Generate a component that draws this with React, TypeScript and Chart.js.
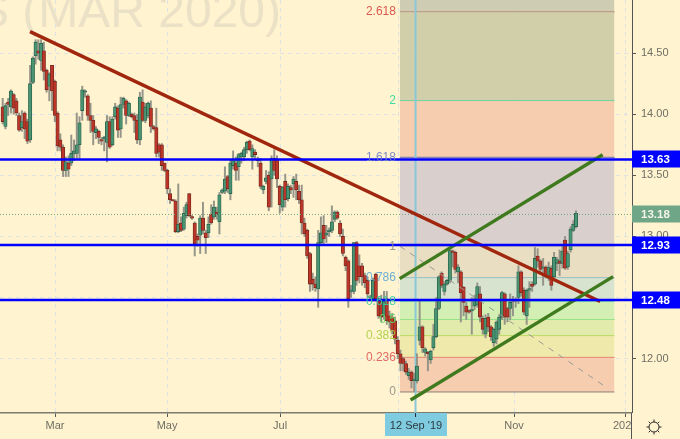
import React, { useEffect, useRef } from "react";
import { Chart, registerables } from "chart.js";

Chart.register(...registerables);

const opens = [
  14.06, 13.90, 14.10, 14.06, 14.16, 14.11, 13.99, 13.89, 14.01, 13.94,
  13.79, 14.26, 14.48, 14.52, 14.44, 14.52, 14.36, 14.23, 14.40, 14.27,
  14.01, 13.79, 13.73, 13.54, 13.60, 13.60, 13.68, 13.68, 13.75, 14.03,
  14.18, 14.15, 13.99, 13.95, 13.85, 13.86, 13.79, 13.80, 13.77, 13.94,
  13.75, 13.98, 14.05, 13.88, 14.08, 14.11, 13.99, 14.00, 13.99, 13.95,
  13.79, 14.10, 13.95, 13.99, 14.05, 13.90, 13.89, 13.75, 13.75, 13.60,
  13.54, 13.35, 13.30, 13.29, 13.04, 13.11, 13.06, 13.17, 13.35, 13.16,
  13.11, 13.00, 13.01, 13.15, 13.03, 13.03, 13.18, 13.16, 13.20, 13.12,
  13.36, 13.37,
  13.49, 13.35, 13.58, 13.60, 13.57, 13.65, 13.65, 13.71, 13.78, 13.65,
  13.69, 13.63, 13.60, 13.38, 13.45, 13.50, 13.47, 13.64, 13.63, 13.41,
  13.24, 13.45, 13.31, 13.40, 13.43, 13.45, 13.37,
  13.30, 13.11, 13.05, 12.86, 12.65, 12.61, 12.57, 12.95, 13.09, 13.01,
  13.04, 13.05, 13.14, 13.20, 13.11, 13.00, 12.83, 12.80, 12.55, 12.55,
  12.95, 12.76, 12.76, 12.68, 12.64, 12.51, 12.49, 12.69, 12.49, 12.47,
  12.35, 12.49, 12.35, 12.34, 12.31, 12.15,
  12.04, 12.00, 11.96, 11.86, 11.89, 11.82, 11.82, 12.15, 12.26, 12.05,
  12.05, 11.99, 12.09, 12.18, 12.41, 12.70, 12.55, 12.61, 12.64, 12.88,
  12.87, 12.71, 12.71, 12.585, 12.43, 12.39, 12.39, 12.43, 12.44, 12.53,
  12.33, 12.20, 12.34, 12.26, 12.13,
  12.16, 12.24, 12.34, 12.53, 12.41, 12.41, 12.48, 12.47, 12.50, 12.71,
  12.56, 12.35, 12.56, 12.61, 12.61, 12.84, 12.80, 12.74, 12.75, 12.67,
  12.74, 12.67, 12.78, 12.80, 12.78, 12.97, 12.75, 12.89, 13.05, 13.08,
];
const closes = [
  13.94, 14.07, 14.08, 14.19, 14.05, 14.01, 13.87, 13.94, 13.88, 13.78,
  14.25, 14.46, 14.59, 14.50, 14.58, 14.35, 14.20, 14.33, 14.19, 13.99,
  13.74, 13.73, 13.54, 13.61, 13.55, 13.68, 13.70, 13.75, 13.93, 14.20,
  14.18, 13.99, 13.95, 13.86, 13.88, 13.81, 13.78, 13.81, 13.94, 13.73,
  13.96, 14.06, 13.87, 14.08, 14.13, 13.99, 14.09, 13.98, 13.95, 13.79,
  14.14, 13.95, 14.06, 14.09, 13.90, 13.88, 13.68, 13.69, 13.58, 13.54,
  13.39, 13.30, 13.29, 13.04, 13.10, 13.05, 13.19, 13.26, 13.17, 13.15,
  12.94, 12.97, 13.15, 13.05, 12.99, 13.10, 13.11, 13.24, 13.18, 13.34,
  13.38, 13.47,
  13.39, 13.60, 13.62, 13.54, 13.67, 13.68, 13.71, 13.77, 13.71, 13.72,
  13.67, 13.62, 13.41, 13.41, 13.48, 13.24, 13.64, 13.54, 13.47, 13.26,
  13.40, 13.30, 13.41, 13.38, 13.47, 13.38, 13.30,
  13.11, 13.02, 12.84, 12.61, 12.61, 12.58, 12.95, 13.03, 12.98, 13.03,
  13.05, 13.12, 13.20, 13.15, 13.02, 12.86, 12.76, 12.49, 12.56, 12.95,
  12.64, 12.67, 12.67, 12.62, 12.53, 12.50, 12.64, 12.49, 12.35, 12.34,
  12.47, 12.31, 12.30, 12.23, 12.16, 12.04,
  11.96, 11.96, 11.89, 11.89, 11.82, 11.83, 11.94, 12.26, 12.09, 12.08,
  12.04, 12.06, 12.18, 12.41, 12.67, 12.60, 12.61, 12.64, 12.885, 12.87,
  12.73, 12.75, 12.54, 12.46, 12.38, 12.38, 12.40, 12.49, 12.59, 12.34,
  12.24, 12.33, 12.26, 12.18, 12.24,
  12.30, 12.34, 12.54, 12.34, 12.34, 12.46, 12.47, 12.48, 12.71, 12.54,
  12.38, 12.56, 12.57, 12.59, 12.82, 12.80, 12.73, 12.75, 12.68, 12.75,
  12.60, 12.83, 12.81, 12.78, 12.88, 12.74, 12.86, 13.06, 13.10, 13.19,
];
const highs = [
  14.13, 14.09, 14.13, 14.20, 14.17, 14.13, 14.01, 14.03, 14.02, 13.96,
  14.40, 14.47, 14.61, 14.61, 14.61, 14.59, 14.37, 14.34, 14.40, 14.28,
  14.02, 13.84, 13.75, 13.65, 13.66, 13.83, 13.79, 14.01, 13.98, 14.23,
  14.20, 14.16, 14.09, 13.99, 13.90, 13.87, 13.81, 13.82, 13.99, 13.98,
  13.98, 14.09, 14.07, 14.14, 14.14, 14.12, 14.10, 14.01, 14.01, 14.00,
  14.18, 14.20, 14.09, 14.10, 14.11, 13.91, 14.05, 13.76, 13.76, 13.60,
  13.55, 13.39, 13.30, 13.30, 13.43, 13.16, 13.24, 13.28, 13.35, 13.17,
  13.12, 13.02, 13.17, 13.28, 13.05, 13.16, 13.26, 13.29, 13.24, 13.36,
  13.39, 13.57,
  13.50, 13.63, 13.70, 13.65, 13.68, 13.69, 13.73, 13.78, 13.79, 13.75,
  13.71, 13.65, 13.64, 13.42, 13.54, 13.53, 13.66, 13.71, 13.66, 13.42,
  13.41, 13.51, 13.43, 13.42, 13.49, 13.51, 13.42,
  13.42, 13.15, 13.06, 12.87, 12.70, 12.67, 13.05, 13.16, 13.17, 13.09,
  13.07, 13.25, 13.21, 13.21, 13.13, 13.06, 12.84, 12.81, 12.60, 12.95,
  12.96, 12.85, 12.78, 12.70, 12.67, 12.52, 12.66, 12.70, 12.50, 12.52,
  12.55, 12.55, 12.39, 12.37, 12.34, 12.18,
  12.07, 12.01, 11.98, 11.92, 11.90, 11.88, 12.04, 12.47, 12.27, 12.09,
  12.06, 12.07, 12.28, 12.50, 12.68, 12.71, 12.63, 12.65, 12.90, 12.89,
  12.88, 12.77, 12.72, 12.59, 12.46, 12.40, 12.50, 12.52, 12.62, 12.59,
  12.35, 12.36, 12.37, 12.27, 12.25,
  12.31, 12.36, 12.55, 12.54, 12.42, 12.53, 12.51, 12.50, 12.76, 12.72,
  12.58, 12.57, 12.63, 12.63, 12.91, 12.90, 12.81, 12.82, 12.76, 12.79,
  12.76, 12.87, 12.83, 12.89, 12.92, 13.00, 12.88, 13.08, 13.13, 13.21,
];
const lows = [
  13.92, 13.88, 13.99, 14.01, 14.00, 13.99, 13.86, 13.86, 13.80, 13.76,
  13.77, 14.25, 14.41, 14.45, 14.36, 14.28, 14.18, 14.11, 14.03, 13.94,
  13.70, 13.70, 13.49, 13.49, 13.49, 13.58, 13.62, 13.64, 13.64, 13.95,
  14.14, 13.95, 13.85, 13.75, 13.80, 13.76, 13.75, 13.70, 13.61, 13.72,
  13.74, 13.96, 13.81, 13.81, 14.05, 13.92, 13.98, 13.97, 13.85, 13.76,
  13.75, 13.94, 13.93, 13.97, 13.85, 13.87, 13.65, 13.65, 13.54, 13.53,
  13.35, 13.27, 13.29, 13.03, 13.03, 13.04, 13.05, 13.15, 13.16, 13.14,
  12.84, 12.92, 12.86, 13.02, 12.86, 12.99, 13.10, 13.14, 13.14, 13.02,
  13.35, 13.35,
  13.36, 13.30, 13.55, 13.46, 13.46, 13.60, 13.62, 13.68, 13.70, 13.55,
  13.63, 13.57, 13.39, 13.35, 13.43, 13.21, 13.24, 13.50, 13.40, 13.19,
  13.21, 13.24, 13.29, 13.35, 13.32, 13.30, 13.27,
  13.02, 13.00, 12.82, 12.55, 12.56, 12.55, 12.42, 12.93, 12.94, 12.95,
  13.00, 13.03, 13.12, 13.14, 13.00, 12.84, 12.72, 12.42, 12.50, 12.53,
  12.60, 12.62, 12.60, 12.58, 12.50, 12.48, 12.47, 12.47, 12.33, 12.30,
  12.32, 12.28, 12.25, 12.20, 12.12, 12.00,
  11.90, 11.90, 11.87, 11.83, 11.76, 11.73, 11.80, 12.11, 12.05, 12.02,
  11.90, 11.96, 12.07, 12.17, 12.40, 12.58, 12.52, 12.60, 12.62, 12.75,
  12.70, 12.62, 12.30, 12.35, 12.32, 12.37, 12.20, 12.40, 12.42, 12.30,
  12.20, 12.17, 12.22, 12.15, 12.10,
  12.12, 12.20, 12.32, 12.28, 12.30, 12.32, 12.35, 12.42, 12.45, 12.51,
  12.36, 12.28, 12.42, 12.55, 12.60, 12.75, 12.70, 12.60, 12.66, 12.64,
  12.56, 12.65, 12.72, 12.68, 12.74, 12.73, 12.73, 12.87, 13.04, 13.07,
];

const timeTickValues = [19.07, 59.9, 101.1, 144.3, 186.4, 226.9];
const timeTickLabels = ["Mar", "May", "Jul", "Sep", "Nov", "2020"];
const priceTicks = [12, 12.5, 13, 13.5, 14, 14.5];

const redTrendX = [9.96, 217.8];
const redTrendY = [14.676, 12.467];
const greenUpperX = [144.7, 218.7];
const greenUpperY = [12.655, 13.669];
const greenLowerX = [148.7, 222.5];
const greenLowerY = [11.662, 12.671];
const fibDiagX = [144.8, 220.7];
const fibDiagY = [12.92, 11.755];

const fibLabels = ["0", "0.236", "0.382", "0.5", "0.618", "0.786", "1", "1.618", "2", "2.618"];
const fibPrices = [11.727, 12.01, 12.186, 12.32, 12.467, 12.66, 12.92, 13.647, 14.109, 14.836];
const fibLine = ["#8a7f78", "#d9584a", "#a8cf40", "#5cdc6a", "#4ad6a0", "#5fa8c0", "#8d8d8d", "#7b7fb0", "#2ed7a0", "#a85a50"];
const fibText = ["#8f8f88", "#e05a55", "#a8d040", "#5cdc5c", "#35d09a", "#5fa9d0", "#8f8f88", "#6f7fc4", "#2ed7a0", "#d9453f"];
const fibFill = ["#f5c9ab", "#efe8a8", "#dfeaa8", "#cfeeb0", "#d3e0cf", "#e8dcc0", "#d5cbcb", "#f5c9ab", "#cccba5", "#c9c8b0"];
const fibLeft = 144.8;
const fibRight = 223;
const fibCeiling = 15.5;

const keyLevels = [13.63, 12.93, 12.48];
const lastPrice = 13.18;
const selectedDate = 150.5;
const selectedLabel = "12 Sep '19";

const xMin = -0.984;
const xMax = 229.4;
const yMin = 11.555;
const yMax = 14.935;

const BG = "#fff3d0";
const FONT = "'Liberation Sans', Arial, sans-serif";

function line(xs: number[], ys: number[], color: string, width: number, order: number, dash: number[] = []) {
  return {
    type: "line" as const,
    data: xs.map((x, i) => ({ x, y: ys[i] })),
    borderColor: color,
    borderWidth: width,
    borderDash: dash,
    pointRadius: 0,
    tension: 0,
    fill: false,
    order,
  };
}

function noPadding(s: any) {
  s.paddingTop = 0;
  s.paddingBottom = 0;
  s.paddingLeft = 0;
  s.paddingRight = 0;
}

const overlay = {
  id: "overlay",
  beforeDatasetsDraw(chart: any) {
    const { ctx } = chart;
    ctx.save();
    ctx.beginPath();
    ctx.rect(0, 0, 632, 413);
    ctx.clip();
    ctx.font = `48px ${FONT}`;
    ctx.fillStyle = "#ebe1c6";
    ctx.textAlign = "right";
    ctx.textBaseline = "alphabetic";
    ctx.fillText("S (MAR 2020)", 281, 27);
    ctx.restore();
  },
  afterDatasetsDraw(chart: any) {
    const { ctx, scales } = chart;
    ctx.save();
    ctx.font = `12px ${FONT}`;
    ctx.textAlign = "right";
    ctx.textBaseline = "middle";
    const xp = scales.x.getPixelForValue(fibLeft) - 4;
    fibLabels.forEach((t, i) => {
      ctx.fillStyle = fibText[i];
      ctx.globalAlpha = 0.9;
      ctx.fillText(t, xp, scales.y.getPixelForValue(fibPrices[i]));
    });
    ctx.restore();
  },
  afterDraw(chart: any) {
    const { ctx, scales } = chart;
    ctx.save();
    // corner block hides whatever of the time scale runs under the price scale
    ctx.fillStyle = BG;
    ctx.fillRect(632, 413, 48, 26);
    ctx.strokeStyle = "#555";
    ctx.lineWidth = 1;
    ctx.beginPath();
    ctx.moveTo(631.5, 413);
    ctx.lineTo(631.5, 439);
    ctx.stroke();

    const tag = (value: number, bg: string, fg: string) => {
      const y = scales.y.getPixelForValue(value);
      ctx.fillStyle = bg;
      ctx.fillRect(632, Math.round(y) - 8.5, 48, 17);
      ctx.fillStyle = fg;
      ctx.font = `bold 11.5px ${FONT}`;
      ctx.textAlign = "left";
      ctx.textBaseline = "middle";
      ctx.fillText(value.toFixed(2), 641, y + 0.5);
    };
    tag(lastPrice, "#6fa688", "#f4f4e8");
    keyLevels.forEach((v) => tag(v, "#0000ff", "#ffffff"));

    const cx = scales.x.getPixelForValue(selectedDate);
    ctx.fillStyle = "#7fcbdf";
    ctx.fillRect(385, 413, 62, 23);
    ctx.strokeStyle = "#223";
    ctx.beginPath();
    ctx.moveTo(cx, 413);
    ctx.lineTo(cx, 417);
    ctx.stroke();
    ctx.fillStyle = "#2c3a3f";
    ctx.font = `11px ${FONT}`;
    ctx.textAlign = "center";
    ctx.textBaseline = "middle";
    ctx.fillText(selectedLabel, 416, 425.5);

    const gx = 654;
    const gy = 427;
    ctx.strokeStyle = "#2a2a2a";
    ctx.lineWidth = 1;
    ctx.beginPath();
    ctx.arc(gx, gy, 5, 0, Math.PI * 2);
    ctx.stroke();
    for (let k = 0; k < 8; k++) {
      const a = (k * Math.PI) / 4;
      ctx.beginPath();
      ctx.moveTo(gx + Math.cos(a) * 5, gy + Math.sin(a) * 5);
      ctx.lineTo(gx + Math.cos(a) * 7.5, gy + Math.sin(a) * 7.5);
      ctx.stroke();
    }
    ctx.restore();
  },
};

export default function App() {
  const ref = useRef<HTMLCanvasElement | null>(null);
  useEffect(() => {
    document.body.style.margin = "0";
    document.body.style.background = BG;
    if (!ref.current) return;

    const fibBands = fibPrices.map((p, i) => ({
      type: "line" as const,
      data: [{ x: fibLeft, y: p }, { x: fibRight, y: p }],
      borderColor: fibLine[i],
      borderWidth: 1,
      pointRadius: 0,
      backgroundColor: fibFill[i] + "e8",
      fill: { value: i + 1 < fibPrices.length ? fibPrices[i + 1] : fibCeiling },
      order: 30,
    }));

    const up = closes.map((c, i) => c >= opens[i]);
    const datasets: any[] = [
      ...fibBands,
      line([fibLeft, fibRight], [fibPrices[7], fibPrices[7]], fibLine[7], 1, 29),
      line([selectedDate, selectedDate], [yMin, yMax], "#8ac8d8", 2, 28),
      {
        type: "bar",
        grouped: false,
        barThickness: 1.3,
        data: highs.map((h, i) => ({ x: i, y: [lows[i], h] })),
        backgroundColor: "#949488",
        borderWidth: 0,
        order: 20,
      },
      {
        type: "bar",
        grouped: false,
        barThickness: 3.4,
        minBarLength: 1.5,
        data: opens.map((o, i) => ({ x: i, y: [o, closes[i]] })),
        backgroundColor: up.map((u) => (u ? "#4a9472" : "#bb3628")),
        borderColor: up.map((u) => (u ? "#24604a" : "#74281d")),
        borderWidth: 0.8,
        borderSkipped: false,
        order: 19,
      },
      line(fibDiagX, fibDiagY, "#9a9a94", 1, 12, [6, 6]),
      line([xMin, xMax], [lastPrice, lastPrice], "#6fa583", 1, 11, [1, 2]),
      line(redTrendX, redTrendY, "#a0260e", 3.4, 6),
      line(greenUpperX, greenUpperY, "#3f7a1e", 3.4, 5),
      line(greenLowerX, greenLowerY, "#3f7a1e", 3.4, 4),
      ...keyLevels.map((v) => line([xMin, xMax], [v, v], "#0000ff", 2.4, 3)),
    ];

    const chart = new Chart(ref.current, {
      type: "bar",
      data: { datasets },
      plugins: [overlay],
      options: {
        animation: false,
        responsive: false,
        events: [],
        layout: { padding: 0 },
        plugins: { legend: { display: false }, tooltip: { enabled: false } },
        scales: {
          x: {
            type: "linear",
            min: xMin,
            max: xMax,
            offset: false,
            afterBuildTicks: (s: any) => {
              s.ticks = timeTickValues.map((value) => ({ value }));
            },
            afterFit: (s: any) => {
              s.height = 26;
              noPadding(s);
            },
            border: { color: "#7b7b6f", width: 1.5, dash: [4, 4] },
            grid: { offset: false, color: "#dfe2e4", tickColor: "#555", tickLength: 4, tickBorderDash: [] },
            ticks: {
              autoSkip: false,
              maxRotation: 0,
              padding: 2,
              color: "#6f6f64",
              font: { size: 11, family: FONT },
              callback: (v: any) => {
                const k = timeTickValues.indexOf(Number(v));
                return k >= 0 ? timeTickLabels[k] : "";
              },
            },
          },
          y: {
            type: "linear",
            position: "right",
            min: yMin,
            max: yMax,
            afterBuildTicks: (s: any) => {
              s.ticks = priceTicks.map((value) => ({ value }));
            },
            afterFit: (s: any) => {
              s.width = 48;
              noPadding(s);
            },
            border: { color: "#555", width: 1, dash: [4, 4] },
            grid: { color: "#dfe2e4", tickColor: "#555", tickLength: 4, tickBorderDash: [] },
            ticks: {
              padding: 5,
              color: "#6f6f64",
              font: { size: 11, family: FONT },
              callback: (v: any) => Number(v).toFixed(2),
            },
          },
        },
      },
    } as any);
    return () => chart.destroy();
  }, []);

  return <canvas ref={ref} width={680} height={439} style={{ display: "block", background: BG }} />;
}
